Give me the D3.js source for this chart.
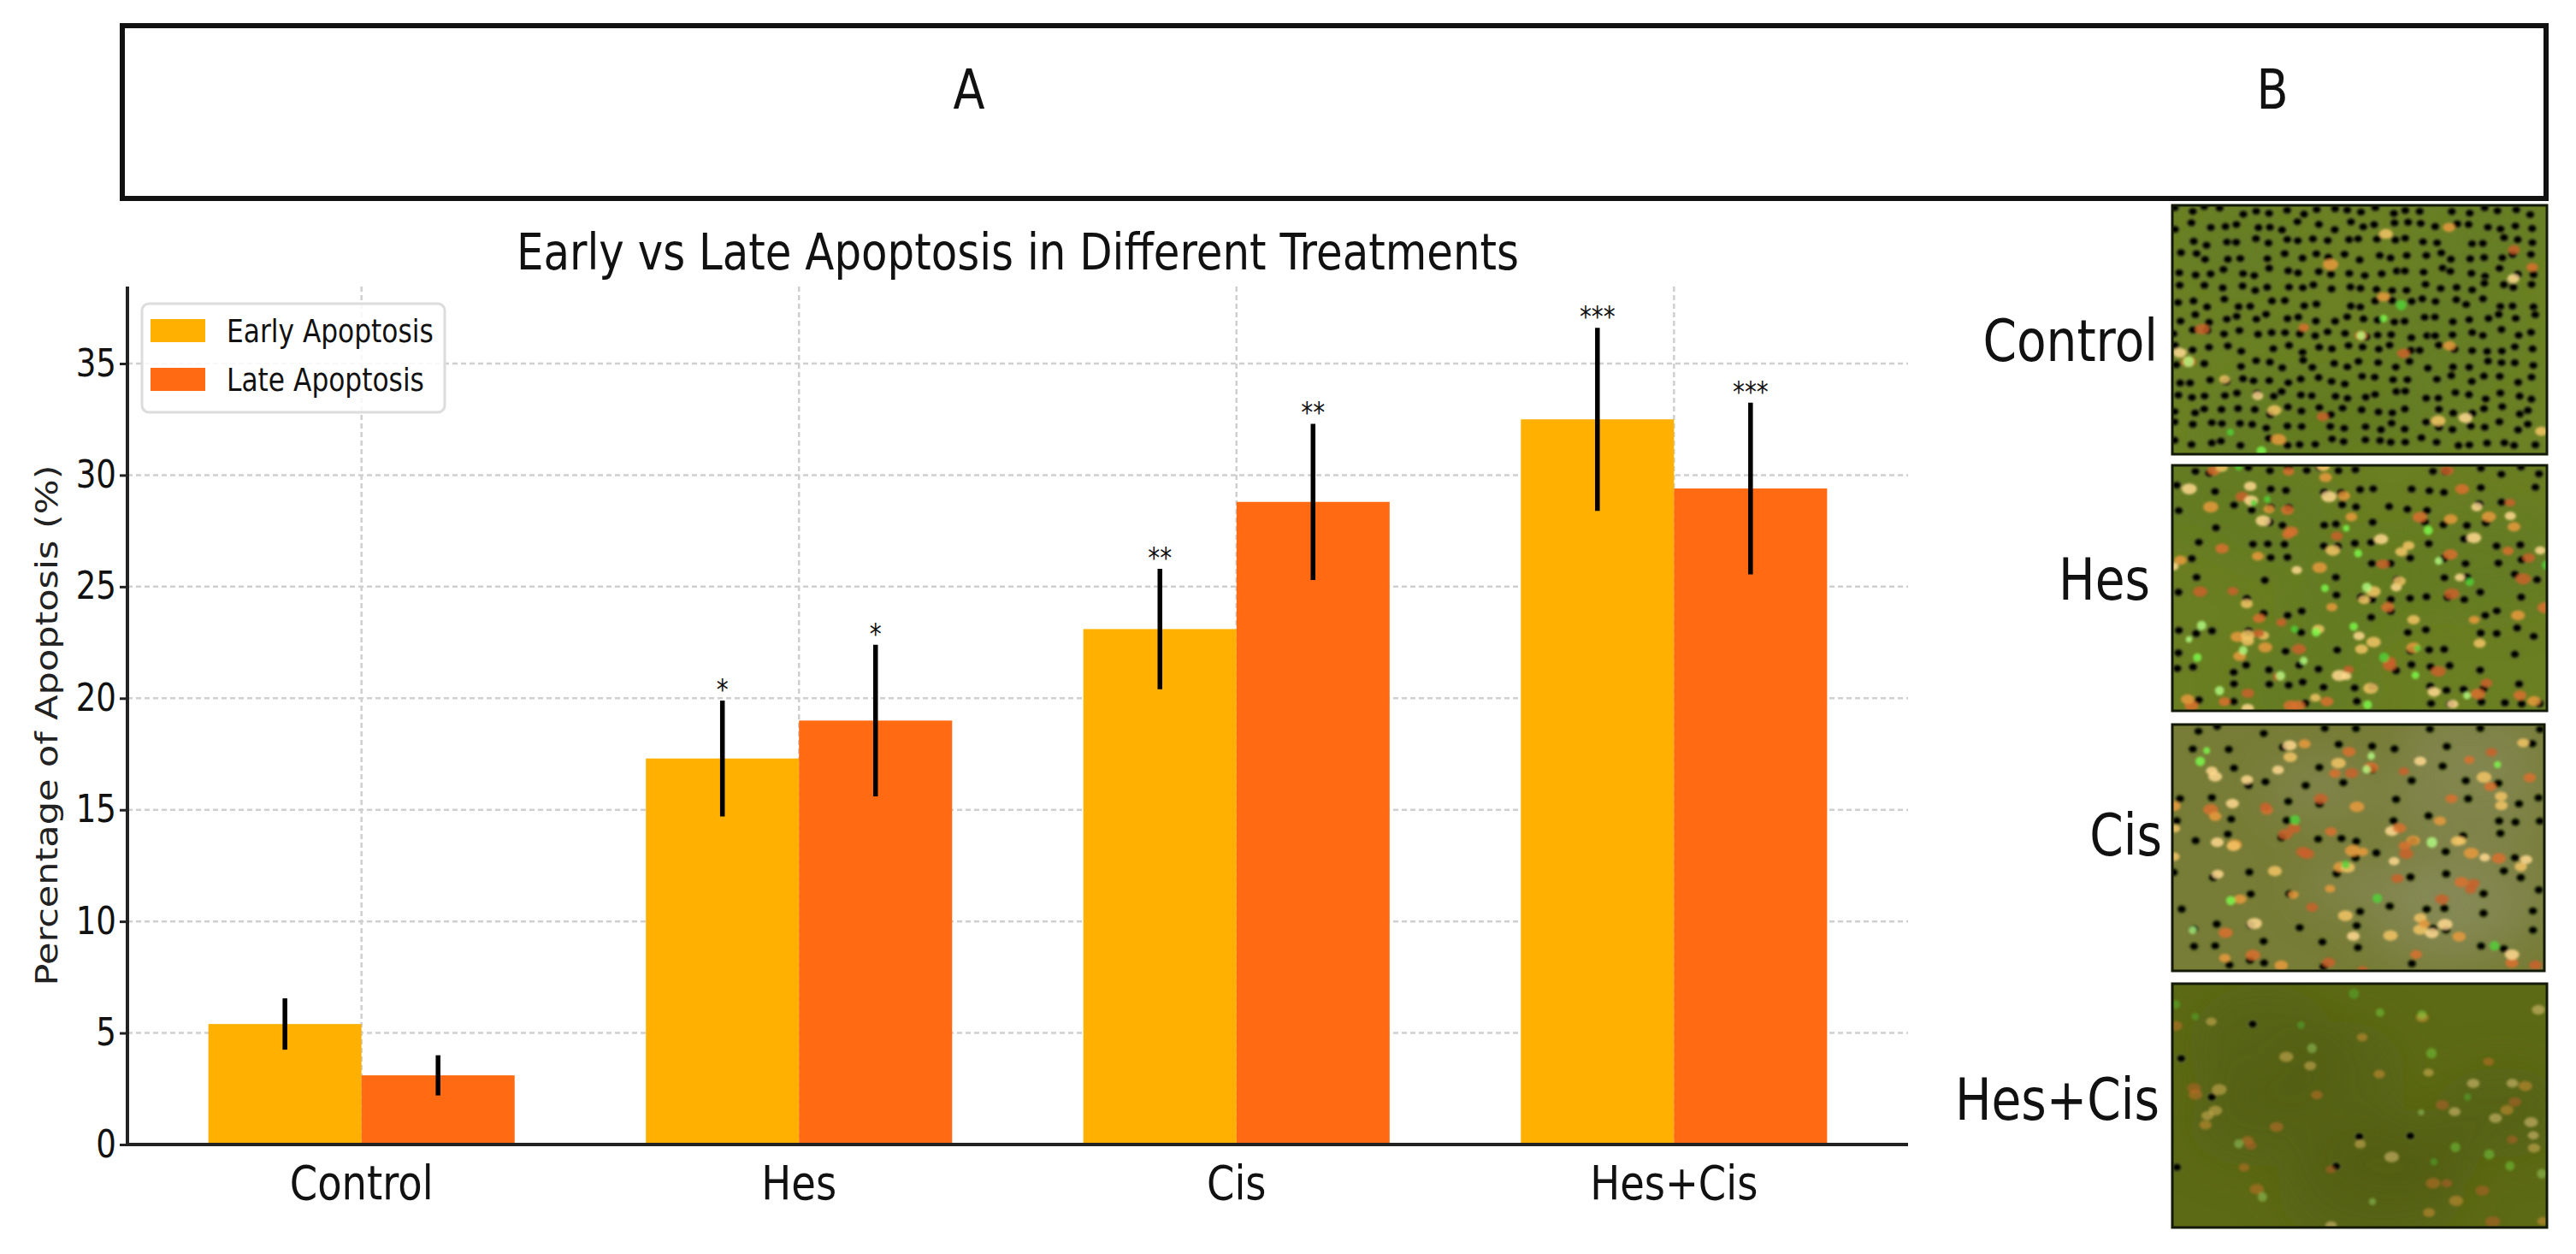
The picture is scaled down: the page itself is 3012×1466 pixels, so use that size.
<!DOCTYPE html>
<html>
<head>
<meta charset="utf-8">
<script src="https://cdn.jsdelivr.net/npm/d3@7"></script>
<style>
  html, body { margin: 0; background: #fff; }
  svg { display: block; font-family: "DejaVu Sans", sans-serif; }
</style>
</head>
<body>
<svg id="fig" width="3012" height="1466"></svg>
<script>
// ---- data ----
const categories = ['Control', 'Hes', 'Cis', 'Hes+Cis'];
const seriesNames = ['Early Apoptosis', 'Late Apoptosis'];
const earlyValues = [5.4, 17.3, 23.1, 32.5];
const earlyErrors = [1.15, 2.6, 2.7, 4.1];
const lateValues = [3.1, 19.0, 28.8, 29.4];
const lateErrors = [0.9, 3.4, 3.5, 3.85];
const earlyStars = ['', '*', '**', '***'];
const lateStars = ['', '*', '**', '***'];
const yTicks = [0, 5, 10, 15, 20, 25, 30, 35];
const photoLabels = ['Control', 'Hes', 'Cis', 'Hes+Cis'];
// micrograph look, one entry per panel
const photoBg = ['#6b8124', '#6a7e22', '#777c36', '#5d6a15'];
const blackDensity = [0.97, 0.5, 0.38, 0.03];
const orangeCount = [22, 100, 90, 45];
const greenCount = [6, 26, 12, 18];

const colors = ['#ffb000', '#ff6a13'];
const SQ = 0.845; // the figure's glyphs are horizontally squeezed

const svg = d3.select('#fig');

function label(parent, x, y, text, size, anchor) {
  return parent.append('text')
    .attr('transform', `translate(${x},${y}) scale(${SQ},1)`)
    .attr('text-anchor', anchor || 'middle')
    .attr('font-size', size)
    .attr('fill', '#111')
    .text(text);
}

function squash(sel) {
  sel.each(function () {
    const t = d3.select(this);
    const x = +t.attr('x') || 0, y = +t.attr('y') || 0;
    t.attr('x', null).attr('y', null)
      .attr('transform', `translate(${x},${y}) scale(${SQ},1)`);
  });
}

// ---- header box ----
svg.append('rect')
  .attr('x', 143).attr('y', 30).attr('width', 2834).attr('height', 202)
  .attr('fill', 'none').attr('stroke', '#111').attr('stroke-width', 6);
label(svg, 1133, 127, 'A', 64);
label(svg, 2657, 127, 'B', 64);

// ---- bar chart ----
const x = d3.scaleLinear().domain([-0.535, 3.535]).range([149, 2231]);
const y = d3.scaleLinear().domain([0, 38.45]).range([1338, 335]);
const bw = x(0.35) - x(0);

const plot = svg.append('g');

// grid
plot.append('g').selectAll('line.h').data(yTicks.slice(1)).join('line')
  .attr('x1', x.range()[0]).attr('x2', x.range()[1])
  .attr('y1', d => y(d)).attr('y2', d => y(d))
  .attr('stroke', '#cfcfcf').attr('stroke-width', 2.5).attr('stroke-dasharray', '6,4');
plot.append('g').selectAll('line.v').data(categories).join('line')
  .attr('x1', (d, i) => x(i)).attr('x2', (d, i) => x(i))
  .attr('y1', y.range()[1]).attr('y2', y.range()[0])
  .attr('stroke', '#cfcfcf').attr('stroke-width', 2.5).attr('stroke-dasharray', '6,4');

const series = [
  { name: seriesNames[0], values: earlyValues, errors: earlyErrors, stars: earlyStars, off: -0.175, color: colors[0] },
  { name: seriesNames[1], values: lateValues, errors: lateErrors, stars: lateStars, off: 0.175, color: colors[1] }
];

series.forEach(s => {
  const g = plot.append('g');
  g.selectAll('rect').data(s.values).join('rect')
    .attr('x', (d, i) => x(i + s.off) - bw / 2)
    .attr('width', bw)
    .attr('y', d => y(d))
    .attr('height', d => y(0) - y(d))
    .attr('fill', s.color);
  g.selectAll('line').data(s.values).join('line')
    .attr('x1', (d, i) => x(i + s.off)).attr('x2', (d, i) => x(i + s.off))
    .attr('y1', (d, i) => y(d - s.errors[i])).attr('y2', (d, i) => y(d + s.errors[i]))
    .attr('stroke', '#000').attr('stroke-width', 5.5);
  s.values.forEach((d, i) => {
    if (s.stars[i]) label(g, x(i + s.off), y(d + s.errors[i]) - 1, s.stars[i], 33);
  });
});

// axes
const yAxis = plot.append('g')
  .attr('transform', `translate(${x.range()[0]},0)`)
  .call(d3.axisLeft(y).tickValues(yTicks).tickSize(9).tickPadding(4));
yAxis.select('.domain').attr('stroke', '#222').attr('stroke-width', 4)
  .attr('d', `M0,${y.range()[1]}V${y.range()[0]}`);
yAxis.selectAll('.tick line').attr('stroke', '#222').attr('stroke-width', 3);
yAxis.selectAll('.tick text').attr('font-size', 44).attr('fill', '#111')
  .attr('font-family', '"DejaVu Sans", sans-serif').call(squash);

const xAxis = plot.append('g')
  .attr('transform', `translate(0,${y(0)})`)
  .call(d3.axisBottom(x).tickValues(d3.range(categories.length)).tickSize(0).tickFormat(() => ''));
xAxis.select('.domain').attr('stroke', '#222').attr('stroke-width', 4)
  .attr('d', `M${x.range()[0]},0H${x.range()[1]}`);
categories.forEach((c, i) => label(plot, x(i), 1402, c, 55));

// axis label + title
plot.append('text')
  .attr('transform', `translate(67,848) rotate(-90) scale(1,${SQ})`)
  .attr('text-anchor', 'middle').attr('font-size', 43).attr('fill', '#222')
  .text('Percentage of Apoptosis (%)');
label(plot, 1190, 315, 'Early vs Late Apoptosis in Different Treatments', 59);

// legend
const leg = plot.append('g');
leg.append('rect').attr('x', 166).attr('y', 355).attr('width', 354).attr('height', 127)
  .attr('rx', 8).attr('fill', '#fff').attr('fill-opacity', 0.85)
  .attr('stroke', '#dcdcdc').attr('stroke-width', 3);
series.forEach((s, i) => {
  leg.append('rect').attr('x', 176).attr('y', 373 + i * 57).attr('width', 64).attr('height', 27)
    .attr('fill', s.color);
  label(leg, 265, 400 + i * 57, s.name, 37, 'start');
});

// ---- micrograph panels (B) ----
const panels = [
  { x: 2540, y: 240, w: 438, h: 291, ly: 422, lx: 2523 },
  { x: 2540, y: 544, w: 438, h: 287, ly: 701, lx: 2514 },
  { x: 2540, y: 847, w: 435, h: 288, ly: 1000, lx: 2528 },
  { x: 2540, y: 1150, w: 438, h: 285, ly: 1309, lx: 2525 }
];

const defs = svg.append('defs');
defs.append('filter').attr('id', 'soft').append('feGaussianBlur').attr('stdDeviation', 1.4);
defs.append('filter').attr('id', 'haze').append('feGaussianBlur').attr('stdDeviation', 25);

function hash(n) {
  const s = Math.sin(n * 12.9898 + 78.233) * 43758.5453;
  return s - Math.floor(s);
}

const warm = ['#e89a3c', '#f2c465', '#d9702e', '#ffd98f', '#c9602a'];
const cool = ['#7dff4d', '#b4ff86', '#4fd43a'];

panels.forEach((p, k) => {
  defs.append('clipPath').attr('id', 'clip' + k)
    .append('rect').attr('x', p.x).attr('y', p.y).attr('width', p.w).attr('height', p.h);
  const g = svg.append('g').attr('clip-path', `url(#clip${k})`);
  g.append('rect').attr('x', p.x).attr('y', p.y).attr('width', p.w).attr('height', p.h)
    .attr('fill', photoBg[k]);
  // soft uneven background
  const haze = g.append('g').attr('filter', 'url(#haze)');
  for (let j = 0; j < 6; j++) {
    haze.append('ellipse')
      .attr('cx', p.x + hash(k * 97 + j) * p.w)
      .attr('cy', p.y + hash(k * 131 + j * 7) * p.h)
      .attr('rx', 50 + hash(j * 3 + k) * 60).attr('ry', 35 + hash(j * 5 + k) * 40)
      .attr('fill', k === 2 ? '#8c8d62' : (k === 3 ? '#4f5c10' : '#5f7a20')).attr('opacity', 0.45);
  }
  const dots = g.append('g').attr('filter', 'url(#soft)');
  const step = k === 0 ? 18 : 21;
  let n = 0;
  for (let gy = p.y + 6; gy < p.y + p.h; gy += step) {
    for (let gx = p.x + 6; gx < p.x + p.w; gx += step) {
      n++;
      const seed = k * 1000 + n;
      if (hash(seed) < blackDensity[k]) {
        dots.append('ellipse')
          .attr('cx', gx + (hash(seed + 0.3) - 0.5) * 10)
          .attr('cy', gy + (hash(seed + 0.7) - 0.5) * 10)
          .attr('rx', 5.8).attr('ry', 5.2)
          .attr('fill', '#040604')
          .attr('stroke', '#93a54a').attr('stroke-width', 1.5).attr('stroke-opacity', 0.45);
      }
    }
  }
  for (let j = 0; j < orangeCount[k]; j++) {
    const seed = k * 5000 + j * 3 + 1;
    dots.append('ellipse')
      .attr('cx', p.x + hash(seed) * p.w)
      .attr('cy', p.y + hash(seed + 1) * p.h)
      .attr('rx', 6 + hash(seed + 2) * 3).attr('ry', 4.5 + hash(seed + 2) * 2)
      .attr('fill', warm[j % warm.length])
      .attr('opacity', k === 3 ? 0.45 : 0.85);
  }
  for (let j = 0; j < greenCount[k]; j++) {
    const seed = k * 9000 + j * 5 + 2;
    dots.append('circle')
      .attr('cx', p.x + hash(seed) * p.w)
      .attr('cy', p.y + hash(seed + 1) * p.h)
      .attr('r', 3.5 + hash(seed + 2) * 3)
      .attr('fill', cool[j % cool.length])
      .attr('opacity', k === 3 ? 0.35 : 0.8);
  }
  svg.append('rect').attr('x', p.x).attr('y', p.y).attr('width', p.w).attr('height', p.h)
    .attr('fill', 'none').attr('stroke', '#141a08').attr('stroke-width', 3);
  label(svg, p.lx, p.ly, photoLabels[k], 67, 'end');
});
</script>
</body>
</html>
